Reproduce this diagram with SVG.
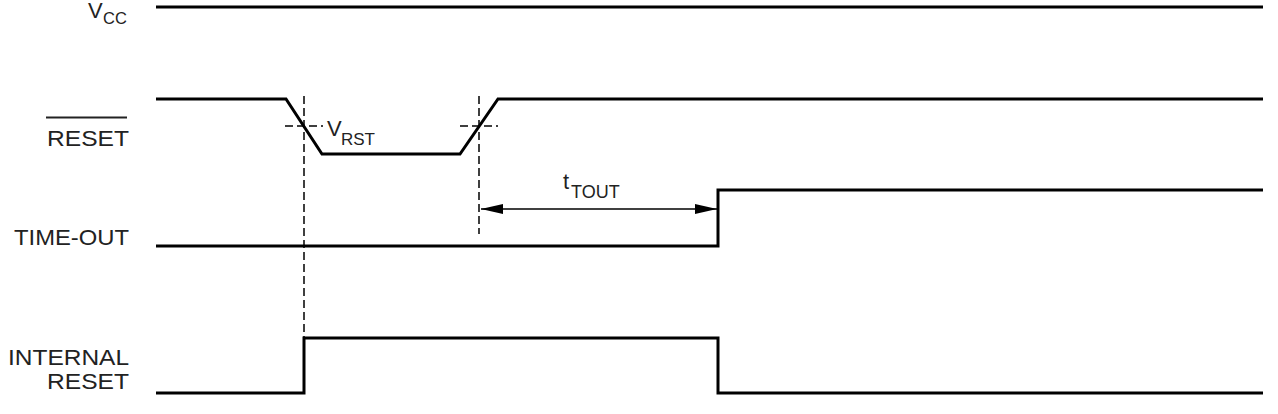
<svg xmlns="http://www.w3.org/2000/svg" width="1278" height="414" viewBox="0 0 1278 414">
<style>
.sig{fill:none;stroke:#000;stroke-width:3;stroke-linejoin:miter}
.dash{fill:none;stroke:#000;stroke-width:1.5;stroke-dasharray:8,4}
.lbl{font-family:"Liberation Sans",Arial,sans-serif;font-size:22.5px;fill:#222;text-anchor:end}
.t{font-family:"Liberation Sans",Arial,sans-serif;fill:#222}
</style>
<defs>
<marker id="ah" viewBox="0 0 22 10" refX="22" refY="5" markerWidth="22" markerHeight="10" markerUnits="userSpaceOnUse" orient="auto-start-reverse">
<path d="M0,0 L22,5 L0,10 Z" fill="#000"/>
</marker>
</defs>
<g id="labels">
<g id="label-vcc"><text class="t" x="88" y="18" font-size="22">V</text><text class="t" x="103" y="24" font-size="16.5">CC</text></g>
<g id="label-reset"><text class="lbl" x="129" y="146" textLength="82" lengthAdjust="spacingAndGlyphs">RESET</text><line x1="46" y1="117.5" x2="127" y2="117.5" stroke="#222" stroke-width="2"/></g>
<g id="label-timeout"><text class="lbl" x="129" y="245" textLength="115" lengthAdjust="spacingAndGlyphs">TIME-OUT</text></g>
<g id="label-internal"><text class="lbl" x="129" y="365" textLength="121" lengthAdjust="spacingAndGlyphs">INTERNAL</text><text class="lbl" x="129" y="389" textLength="82" lengthAdjust="spacingAndGlyphs">RESET</text></g>
</g>
<g id="signals">
<polyline id="sig-vcc" class="sig" points="156,7 1263,7"/>
<polyline id="sig-reset" class="sig" points="156,99 286,99 322,154 460,154 498,99 1263,99"/>
<polyline id="sig-timeout" class="sig" points="156,246 718,246 718,190 1263,190"/>
<polyline id="sig-internal" class="sig" points="156,393 304,393 304,338 718,338 718,393 1263,393"/>
</g>
<g id="connectors">
<line class="dash" x1="304" y1="96" x2="304" y2="338"/>
<line class="dash" x1="285" y1="126" x2="323" y2="126"/>
<line class="dash" x1="479" y1="96" x2="479" y2="234"/>
<line class="dash" x1="460" y1="126" x2="498" y2="126"/>
<line x1="481" y1="209" x2="717" y2="209" stroke="#000" stroke-width="1.5" marker-start="url(#ah)" marker-end="url(#ah)"/>
</g>
<g id="annotations">
<g id="vrst"><text class="t" x="327" y="136" font-size="22">V</text><text class="t" x="341" y="145" font-size="17">RST</text></g>
<g id="ttout"><text class="t" x="563" y="189" font-size="22">t</text><text class="t" x="571" y="198" font-size="18">TOUT</text></g>
</g>
</svg>
